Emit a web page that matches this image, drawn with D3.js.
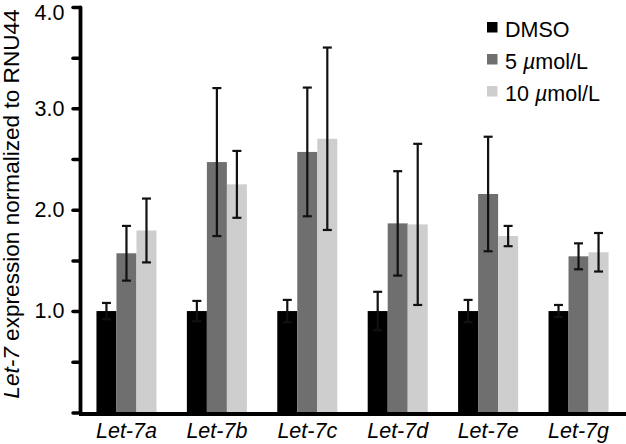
<!DOCTYPE html>
<html>
<head>
<meta charset="utf-8">
<script src="https://cdn.jsdelivr.net/npm/d3@7"></script>
<style>
  html, body { margin: 0; padding: 0; background: #fff; }
  svg { display: block; font-family: "Liberation Sans", Arial, sans-serif; }
</style>
</head>
<body>
<svg id="chart" width="626" height="444"></svg>
<script>
// ---- data ----
const categories = ["Let-7a", "Let-7b", "Let-7c", "Let-7d", "Let-7e", "Let-7g"];
const seriesNames = ["DMSO", "5 µmol/L", "10 µmol/L"];
const dmsoValues = [1.0, 1.0, 1.0, 1.0, 1.0, 1.0];
const dmsoErrors = [0.08, 0.10, 0.11, 0.19, 0.11, 0.06];
const fiveValues = [1.57, 2.47, 2.57, 1.865, 2.155, 1.54];
const fiveErrors = [0.27, 0.73, 0.635, 0.515, 0.565, 0.128];
const tenValues = [1.795, 2.25, 2.70, 1.855, 1.74, 1.58];
const tenErrors = [0.315, 0.33, 0.90, 0.795, 0.10, 0.19];
const yTickValues = [0, 0.5, 1, 1.5, 2, 2.5, 3, 3.5, 4];
const colors = ["#000000", "#6f6f6f", "#cecece"];

const valuesBySeries = [dmsoValues, fiveValues, tenValues];
const errorsBySeries = [dmsoErrors, fiveErrors, tenErrors];

const svg = d3.select("#chart");
const FONT = 21.5;

const y = d3.scaleLinear().domain([0, 4]).range([412.4, 7]);
const x0 = d3.scaleBand().domain(categories).range([79, 626])
  .paddingInner(0.336).paddingOuter(0.193);
const x1 = d3.scaleBand().domain(seriesNames).range([0, x0.bandwidth()]);

// rows
const rows = [];
categories.forEach((c, i) => {
  seriesNames.forEach((s, j) => {
    rows.push({cat: c, series: s, j: j, value: valuesBySeries[j][i], err: errorsBySeries[j][i]});
  });
});

// bars
svg.append("g").selectAll("rect").data(rows).join("rect")
  .attr("x", d => x0(d.cat) + x1(d.series))
  .attr("width", x1.bandwidth())
  .attr("y", d => y(d.value))
  .attr("height", d => y(0) - y(d.value))
  .attr("fill", d => colors[d.j]);

// error bars
const eb = svg.append("g").attr("stroke", "#111").attr("stroke-width", 2.2).attr("fill", "none");
const capW = 9;
rows.forEach(d => {
  const cx = x0(d.cat) + x1(d.series) + x1.bandwidth() / 2;
  const top = y(d.value + d.err), bot = y(d.value - d.err);
  eb.append("line").attr("x1", cx).attr("x2", cx).attr("y1", top).attr("y2", bot);
  eb.append("line").attr("x1", cx - capW / 2).attr("x2", cx + capW / 2).attr("y1", top).attr("y2", top);
  eb.append("line").attr("x1", cx - capW / 2).attr("x2", cx + capW / 2).attr("y1", bot).attr("y2", bot);
});

// x axis line
svg.append("line")
  .attr("x1", 79).attr("x2", 626)
  .attr("y1", 414).attr("y2", 414)
  .attr("stroke", "#000").attr("stroke-width", 4);

// y axis
const yAxis = d3.axisLeft(y)
  .tickValues(yTickValues)
  .tickSize(7)
  .tickSizeOuter(0)
  .tickPadding(8.5)
  .tickFormat(d => (d > 0 && Number.isInteger(d)) ? d.toFixed(1) : "");
const gy = svg.append("g").attr("transform", "translate(80,0)").call(yAxis);
gy.select(".domain").attr("stroke", "#000").attr("stroke-width", 3.8).attr("stroke-linecap", "round");
gy.selectAll(".tick line").attr("stroke", "#000").attr("stroke-width", 3.5).attr("stroke-linecap", "round");
gy.selectAll(".tick text").attr("font-size", FONT).attr("fill", "#000")
  .attr("font-family", "'Liberation Sans', Arial, sans-serif")
  .filter(d => d === 4).attr("dy", "0.6em");

// y axis label
const yl = svg.append("text")
  .attr("transform", "translate(19,204) rotate(-90)")
  .attr("text-anchor", "middle")
  .attr("font-size", 22.6)
  .attr("fill", "#000");
yl.append("tspan").attr("font-style", "italic").text("Let-7");
yl.append("tspan").text(" expression normalized to RNU44");

// x category labels
svg.append("g").selectAll("text").data(categories).join("text")
  .attr("x", d => x0(d) + x0.bandwidth() / 2)
  .attr("y", 438)
  .attr("text-anchor", "middle")
  .attr("font-size", FONT)
  .attr("font-style", "italic")
  .attr("fill", "#000")
  .text(d => d);

// legend
const legend = svg.append("g");
const legendTops = [22, 54, 86];
seriesNames.forEach((s, j) => {
  legend.append("rect").attr("x", 487).attr("y", legendTops[j])
    .attr("width", 10.5).attr("height", 10.5).attr("fill", colors[j]);
  const t = legend.append("text").attr("x", 505).attr("y", legendTops[j] + 15)
    .attr("font-size", FONT).attr("fill", "#000");
  const m = s.match(/^(\S+) (µ)(.*)$/);
  if (m) {
    t.append("tspan").text(m[1] + " ");
    t.append("tspan").attr("font-style", "italic").text(m[2]);
    t.append("tspan").text(m[3]);
  } else {
    t.text(s);
  }
});
</script>
</body>
</html>
